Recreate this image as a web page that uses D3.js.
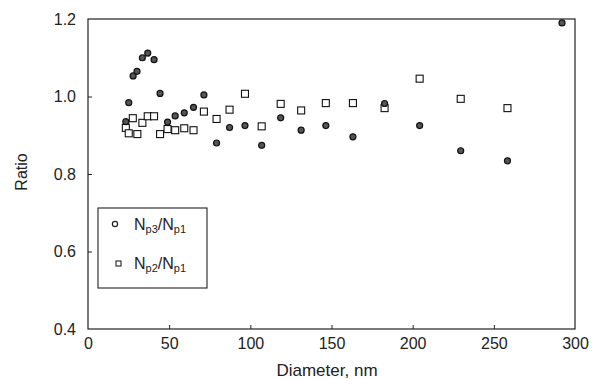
<!DOCTYPE html>
<html>
<head>
<meta charset="utf-8">
<script src="https://cdn.jsdelivr.net/npm/d3@7"></script>
<style>
  body { margin: 0; background: #fff; }
  text { font-family: "Liberation Sans", Arial, sans-serif; fill: #222; }
</style>
</head>
<body>
<div id="chart"></div>
<script>
// Np3/Np1 (circles)
const diamP3 = [23.3, 25.1, 27.8, 30.2, 33.5, 36.8, 40.7, 44.4, 49, 53.7, 59.3, 65, 71.4, 79.2, 87.2, 96.7, 107, 118.7, 131.3, 146.5, 163.2, 182.7, 204.3, 229.6, 258.4, 292];
const ratioP3 = [0.935, 0.984, 1.053, 1.065, 1.100, 1.112, 1.095, 1.008, 0.934, 0.950, 0.958, 0.972, 1.004, 0.880, 0.920, 0.925, 0.874, 0.945, 0.913, 0.925, 0.896, 0.982, 0.925, 0.860, 0.834, 1.19];
// Np2/Np1 (squares)
const diamP2 = [23.3, 25.1, 27.6, 30.4, 33.5, 36.8, 40.7, 44.4, 49, 53.7, 59.3, 65, 71.4, 79.2, 87.2, 96.7, 107, 118.7, 131.3, 146.5, 163.2, 182.7, 204.3, 229.6, 258.4];
const ratioP2 = [0.919, 0.905, 0.944, 0.903, 0.932, 0.949, 0.949, 0.903, 0.916, 0.913, 0.918, 0.913, 0.961, 0.942, 0.966, 1.007, 0.923, 0.981, 0.964, 0.983, 0.983, 0.970, 1.046, 0.994, 0.970];
const xTicks = [0, 50, 100, 150, 200, 250, 300];
const yTicks = [0.4, 0.6, 0.8, 1.0, 1.2];

const width = 594, height = 379;
const margin = { top: 19, right: 19, bottom: 50, left: 88 };

const svg = d3.select('#chart').append('svg')
  .attr('width', width)
  .attr('height', height);

const x = d3.scaleLinear().domain([0, 300]).range([margin.left, width - margin.right]);
const y = d3.scaleLinear().domain([0.4, 1.2]).range([height - margin.bottom, margin.top]);

// frame
svg.append('rect')
  .attr('x', margin.left).attr('y', margin.top)
  .attr('width', x(300) - x(0)).attr('height', y(0.4) - y(1.2))
  .attr('fill', 'none').attr('stroke', '#222').attr('stroke-width', 1.2);

// axes with inward ticks
const xAxis = svg.append('g')
  .attr('transform', `translate(0,${y(0.4)})`)
  .call(d3.axisBottom(x).tickValues(xTicks).tickSizeInner(-4).tickSizeOuter(0).tickPadding(9));
const yAxis = svg.append('g')
  .attr('transform', `translate(${x(0)},0)`)
  .call(d3.axisLeft(y).tickValues(yTicks).tickSizeInner(-4).tickSizeOuter(0).tickPadding(12)
    .tickFormat(d3.format('.1f')));
[xAxis, yAxis].forEach(a => {
  a.select('.domain').remove();
  a.selectAll('.tick line').attr('stroke', '#222');
  a.selectAll('.tick text').attr('font-size', 16).attr('fill', '#222')
    .style('font-family', '"Liberation Sans", Arial, sans-serif');
});
xAxis.selectAll('.tick').filter(d => d === 0 || d === 300).select('line').remove();
yAxis.selectAll('.tick').filter(d => d === 0.4 || d === 1.2).select('line').remove();

// axis titles
svg.append('text')
  .attr('x', 327).attr('y', 376)
  .attr('text-anchor', 'middle').attr('font-size', 17)
  .text('Diameter, nm');
svg.append('text')
  .attr('transform', 'translate(27,172) rotate(-90)')
  .attr('text-anchor', 'middle').attr('font-size', 16)
  .text('Ratio');

// points
svg.append('g').selectAll('rect')
  .data(diamP2.map((d, i) => [d, ratioP2[i]]))
  .enter().append('rect')
  .attr('x', d => x(d[0]) - 3.5).attr('y', d => y(d[1]) - 3.5)
  .attr('width', 7).attr('height', 7)
  .attr('fill', '#fff').attr('stroke', '#111').attr('stroke-width', 1.1);

svg.append('g').selectAll('circle')
  .data(diamP3.map((d, i) => [d, ratioP3[i]]))
  .enter().append('circle')
  .attr('cx', d => x(d[0])).attr('cy', d => y(d[1]))
  .attr('r', 3)
  .attr('fill', '#555').attr('stroke', '#111').attr('stroke-width', 1.2);

// legend
const lg = svg.append('g');
lg.append('rect')
  .attr('x', 98).attr('y', 208).attr('width', 109).attr('height', 80)
  .attr('fill', '#fff').attr('stroke', '#222').attr('stroke-width', 1.1);
lg.append('circle')
  .attr('cx', 115).attr('cy', 224).attr('r', 2.6)
  .attr('fill', '#fff').attr('stroke', '#222').attr('stroke-width', 1.2);
lg.append('rect')
  .attr('x', 116).attr('y', 261).attr('width', 5).attr('height', 5)
  .attr('fill', '#fff').attr('stroke', '#222').attr('stroke-width', 1.1);

function legendLabel(yPos, sub1) {
  const t = lg.append('text').attr('x', 134).attr('y', yPos).attr('font-size', 16);
  t.append('tspan').text('N');
  t.append('tspan').attr('font-size', 11).attr('dy', 3).text('p' + sub1);
  t.append('tspan').attr('dy', -3).text('/N');
  t.append('tspan').attr('font-size', 11).attr('dy', 3).text('p1');
}
legendLabel(230, '3');
legendLabel(269, '2');
</script>
</body>
</html>
